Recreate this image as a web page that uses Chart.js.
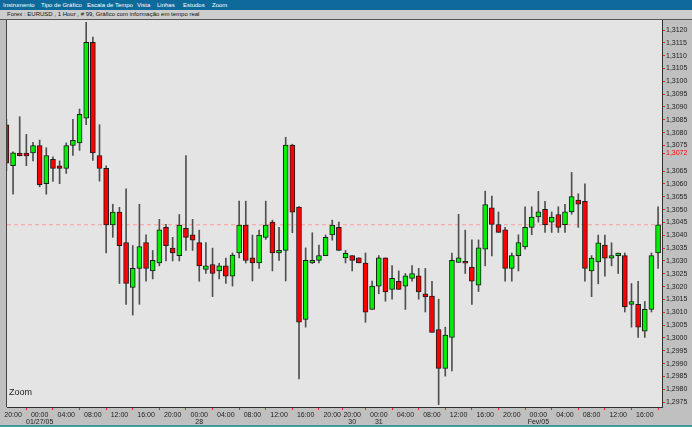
<!DOCTYPE html>
<html><head><meta charset="utf-8">
<script src="https://cdn.jsdelivr.net/npm/chart.js@4"></script>
<style>
html,body{margin:0;padding:0;width:692px;height:427px;overflow:hidden;background:#c0c0c0;font-family:"Liberation Sans",Arial,sans-serif;}
#menu{position:absolute;left:0;top:0;width:692px;height:10px;background:#0f6a9c;color:#fff;font-size:6px;line-height:10px;}
#menu span{position:absolute;top:0;white-space:nowrap;}
#title{position:absolute;left:0;top:10px;width:692px;height:9px;background:#cdcdcd;border-bottom:1px solid #555;font-size:6px;line-height:9px;color:#111;}
#title span{position:absolute;left:7px;top:0;white-space:nowrap;}
#wrap{position:absolute;left:0;top:20px;width:692px;height:407px;}
#zoom{position:absolute;left:9px;top:387px;font-size:9px;color:#222;}
#foot{position:absolute;left:0;top:425px;width:692px;height:2px;background:#3f9b9b;}
</style></head>
<body>
<div id="menu">
<span style="left:3px">Instrumento</span>
<span style="left:41px">Tipo de Gráfico</span>
<span style="left:87px">Escala de Tempo</span>
<span style="left:137px">Vista</span>
<span style="left:157px">Linhas</span>
<span style="left:183px">Estudos</span>
<span style="left:212px">Zoom</span>
</div>
<div id="title"><span>Forex : EURUSD , 1 Hour , # 99, Gráfico com informação em tempo real</span></div>
<div id="wrap"><canvas id="c" width="692" height="407"></canvas></div>
<div id="zoom">Zoom</div>
<div id="foot"></div>
<script>
// hourly candles, index 0 = 26 Jan 19:00
const openP  = [1.30830,1.30671,1.30720,1.30720,1.30721,1.30750,1.30601,1.30696,1.30671,1.30661,
1.30750,1.30760,1.30856,1.31152,1.30711,1.30661,1.30440,1.30490,1.30372,1.30197,
1.30271,1.30372,1.30261,1.30292,1.30431,1.30350,1.30321,1.30427,1.30402,1.30372,
1.30267,1.30286,1.30261,1.30281,1.30241,1.30331,1.30440,1.30312,1.30292,1.30392,
1.30451,1.30331,1.30341,1.30752,1.30510,1.30072,1.30292,1.30302,1.30321,1.30401,
1.30431,1.30312,1.30321,1.30312,1.30292,1.30111,1.30202,1.30312,1.30189,1.30221,
1.30202,1.30232,1.30242,1.30172,1.30163,1.30033,1.29881,1.30002,1.30294,1.30294,
1.30276,1.30206,1.30346,1.30507,1.30442,1.30421,1.30271,1.30321,1.30355,1.30431,
1.30472,1.30501,1.30451,1.30481,1.30441,1.30491,1.30537,1.30532,1.30261,1.30296,
1.30362,1.30311,1.30321,1.30321,1.30131,1.30131,1.30026,1.30111,1.30331];
const highP  = [1.30852,1.30725,1.30862,1.30793,1.30762,1.30771,1.30741,1.30706,1.30690,1.30760,
1.30852,1.30892,1.31230,1.31172,1.30831,1.30671,1.30521,1.30509,1.30581,1.30360,
1.30521,1.30402,1.30341,1.30462,1.30443,1.30392,1.30481,1.30711,1.30462,1.30420,
1.30372,1.30350,1.30291,1.30311,1.30331,1.30533,1.30533,1.30401,1.30420,1.30533,
1.30459,1.30431,1.30782,1.30755,1.30512,1.30351,1.30410,1.30362,1.30401,1.30459,
1.30451,1.30341,1.30321,1.30312,1.30331,1.30222,1.30321,1.30312,1.30282,1.30261,
1.30251,1.30282,1.30271,1.30271,1.30221,1.30151,1.30042,1.30331,1.30482,1.30420,
1.30382,1.30382,1.30572,1.30553,1.30491,1.30431,1.30331,1.30402,1.30511,1.30511,
1.30571,1.30532,1.30491,1.30511,1.30521,1.30645,1.30562,1.30601,1.30321,1.30401,
1.30401,1.30371,1.30331,1.30331,1.30212,1.30221,1.30142,1.30331,1.30511];
const lowP   = [1.30652,1.30560,1.30709,1.30671,1.30690,1.30589,1.30560,1.30610,1.30601,1.30641,
1.30711,1.30731,1.30831,1.30692,1.30611,1.30331,1.30392,1.30212,1.30131,1.30089,
1.30131,1.30221,1.30230,1.30281,1.30300,1.30300,1.30300,1.30341,1.30341,1.30221,
1.30251,1.30161,1.30230,1.30212,1.30202,1.30312,1.30292,1.30222,1.30271,1.30384,
1.30261,1.30302,1.30222,1.30410,1.29840,1.30042,1.30290,1.30292,1.30321,1.30381,
1.30341,1.30292,1.30261,1.30292,1.30061,1.30111,1.30172,1.30143,1.30151,1.30189,
1.30111,1.30221,1.30151,1.30101,1.30021,1.29740,1.29851,1.29871,1.30294,1.30251,
1.30131,1.30181,1.30281,1.30320,1.30411,1.30221,1.30221,1.30261,1.30346,1.30402,
1.30451,1.30411,1.30411,1.30411,1.30411,1.30482,1.30431,1.30221,1.30161,1.30211,
1.30241,1.30281,1.30251,1.30101,1.30042,1.30002,1.30002,1.30101,1.30271];
const closeP = [1.30681,1.30721,1.30710,1.30709,1.30750,1.30597,1.30711,1.30661,1.30661,1.30750,
1.30770,1.30871,1.31152,1.30721,1.30661,1.30440,1.30490,1.30360,1.30212,1.30271,
1.30356,1.30271,1.30302,1.30421,1.30360,1.30331,1.30440,1.30392,1.30381,1.30281,
1.30281,1.30251,1.30281,1.30241,1.30323,1.30440,1.30302,1.30292,1.30401,1.30440,
1.30331,1.30341,1.30752,1.30490,1.30061,1.30302,1.30302,1.30321,1.30392,1.30440,
1.30341,1.30330,1.30302,1.30292,1.30100,1.30202,1.30312,1.30179,1.30232,1.30189,
1.30242,1.30251,1.30179,1.30160,1.30021,1.29881,1.30011,1.30302,1.30312,1.30291,
1.30221,1.30351,1.30520,1.30442,1.30411,1.30271,1.30321,1.30372,1.30431,1.30471,
1.30491,1.30441,1.30471,1.30431,1.30491,1.30551,1.30521,1.30271,1.30311,1.30371,
1.30311,1.30321,1.30331,1.30121,1.30142,1.30042,1.30111,1.30321,1.30441];

// x-axis tick labels (candle index, time, date line)
const tickIndex = [1,5,9,13,17,21,25,29,33,37,41,45,49,52,56,60,64,68,72,76,80,84,88,92,96];
const tickTime  = ["20:00","00:00","04:00","08:00","12:00","16:00","20:00","00:00","04:00","08:00","12:00","16:00","20:00",
                   "20:00","00:00","04:00","08:00","12:00","16:00","20:00","00:00","04:00","08:00","12:00","16:00"];
const tickDate  = ["","01/27/05","","","","","","28","","","","","","30","31","","","","","","Fev/05","","","",""];

// y-axis tick values (1,3070 hidden behind the highlighted 1,3072)
const yTicks = [1.2975,1.2980,1.2985,1.2990,1.2995,1.3000,1.3005,1.3010,1.3015,1.3020,1.3025,1.3030,1.3035,
                1.3040,1.3045,1.3050,1.3055,1.3060,1.3065,1.3072,1.3075,1.3080,1.3085,1.3090,1.3095,1.3100,
                1.3105,1.3110,1.3115,1.3120];
const markedPrice = 1.3072;

const X_MIN = 0.09, X_MAX = 98.59, Y_MIN = 1.297308, Y_MAX = 1.312390;

const idx = openP.map((_, i) => i);
const wickData = idx.map(i => ({x: i, y: [lowP[i], highP[i]]}));
const bodyData = idx.map(i => ({x: i, y: [openP[i], closeP[i]]}));
const bodyColors = idx.map(i => closeP[i] >= openP[i] ? '#00f000' : '#ff0000');
const lastClose = closeP[closeP.length - 1];

const bgPlugin = {
  id: 'bg',
  beforeDraw(chart) {
    const {ctx, chartArea: a} = chart;
    ctx.save();
    ctx.fillStyle = '#c0c0c0';
    ctx.fillRect(0, 0, chart.width, chart.height);
    ctx.fillStyle = '#e4e4e4';
    ctx.fillRect(a.left, a.top, a.right - a.left, a.bottom - a.top);
    ctx.fillStyle = '#444';
    ctx.fillRect(a.left - 1, a.top, 1, a.bottom - a.top);
    ctx.restore();
  }
};

new Chart(document.getElementById('c'), {
  type: 'bar',
  data: {
    datasets: [
      {type: 'line', data: [{x: X_MIN, y: lastClose}, {x: X_MAX, y: lastClose}], borderColor: '#ff9a9a',
       borderWidth: 1, borderDash: [4, 3], pointRadius: 0, order: 3, clip: 0},
      {type: 'bar', data: wickData, backgroundColor: '#505050', barThickness: 1, grouped: false, order: 2, clip: 0},
      {type: 'bar', data: bodyData, backgroundColor: bodyColors, borderColor: '#1c1c1c', borderWidth: 1,
       borderSkipped: false, barThickness: 5, minBarLength: 2, grouped: false, order: 1, clip: 0}
    ]
  },
  options: {
    responsive: false,
    animation: false,
    events: [],
    layout: {padding: {left: 7, top: 0, right: 0, bottom: 0}},
    plugins: {legend: {display: false}, tooltip: {enabled: false}},
    scales: {
      x: {
        type: 'linear', min: X_MIN, max: X_MAX, offset: false,
        afterBuildTicks: s => { s.ticks = tickIndex.map(v => ({value: v})); },
        afterFit: s => { s.height = 20; s.paddingLeft = 0; s.paddingRight = 0; },
        grid: {drawOnChartArea: false, drawTicks: true, tickLength: 3, color: '#ff2020'},
        border: {color: '#303030', width: 1},
        ticks: {
          autoSkip: false, maxRotation: 0, minRotation: 0, padding: 1,
          font: {family: 'Liberation Sans', size: 7, lineHeight: 1.05}, color: '#222',
          callback: v => { const k = tickIndex.indexOf(v); if (k < 0) return ''; return tickDate[k] ? [tickTime[k], tickDate[k]] : tickTime[k]; }
        }
      },
      y: {
        position: 'right', min: Y_MIN, max: Y_MAX,
        afterBuildTicks: s => { s.ticks = yTicks.map(v => ({value: v})); },
        afterFit: s => { s.width = 30; s.paddingTop = 0; s.paddingBottom = 0; },
        grid: {drawOnChartArea: false, drawTicks: true, tickLength: 3, color: '#ff2020'},
        border: {color: '#303030', width: 1},
        ticks: {
          padding: 1, font: {family: 'Liberation Sans', size: 7},
          color: c => (c.tick && Math.abs(c.tick.value - markedPrice) < 1e-7) ? '#ff0000' : '#222',
          callback: v => v.toFixed(4).replace('.', ',')
        }
      }
    }
  },
  plugins: [bgPlugin]
});
</script>
</body></html>
